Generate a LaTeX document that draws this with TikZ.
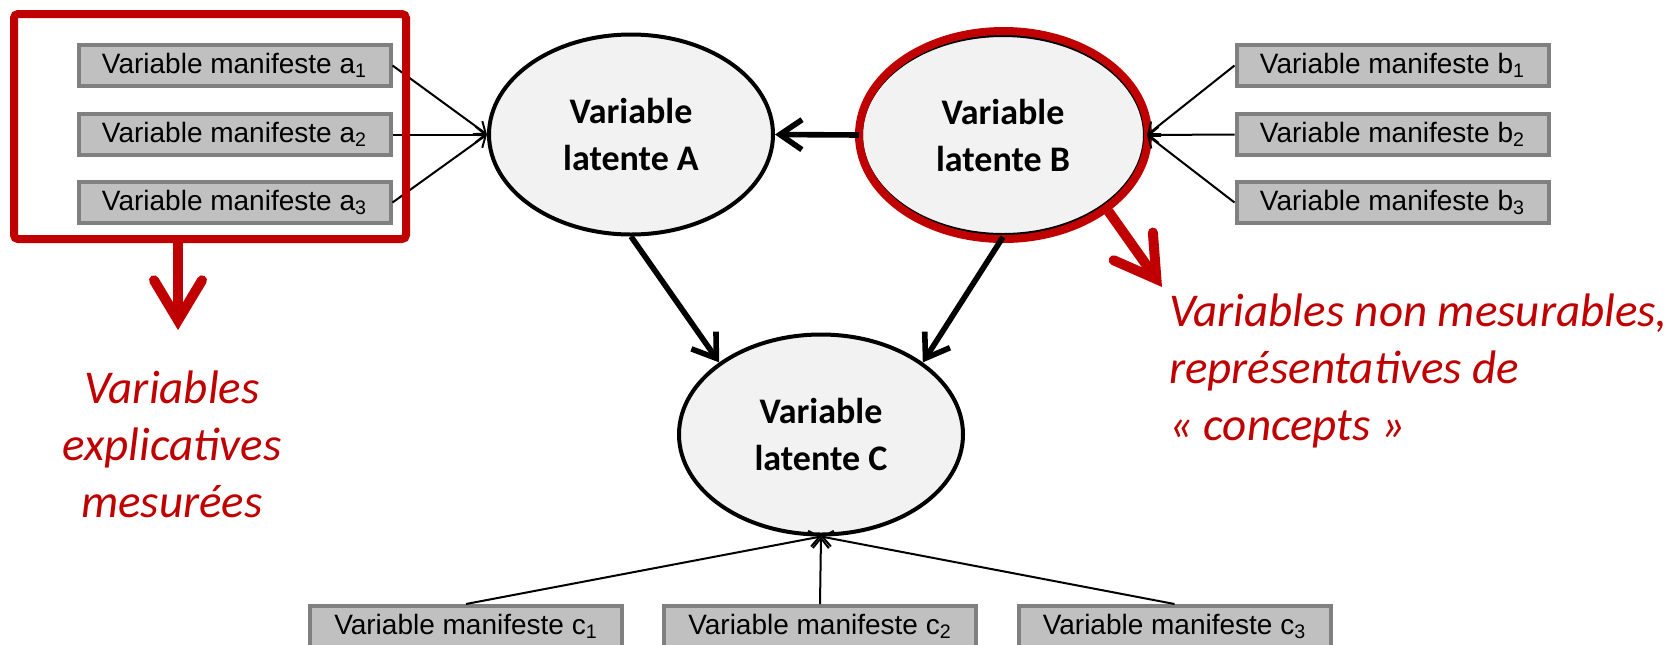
\documentclass[tikz,border=0pt]{standalone}
\usepackage{fontspec}
\setmainfont{Carlito}
\newfontfamily\arialfont{Liberation Sans}
\usetikzlibrary{arrows.meta,shapes.geometric}
\definecolor{accent}{HTML}{C00000}
\definecolor{boxfill}{HTML}{C0C0C0}
\definecolor{boxline}{HTML}{808080}
\definecolor{latfill}{HTML}{F2F2F2}
\tikzset{
	manifest/.style={draw=boxline,fill=boxfill,line width=2pt,minimum width=156pt,minimum height=20.5pt,inner sep=0pt,font=\arialfont\fontsize{14}{16}\selectfont},
	latent/.style={ellipse,draw,fill=latfill,line width=2pt,minimum width=142pt,minimum height=100pt,inner sep=0pt,align=center,font=\bfseries\fontsize{18}{23.5}\selectfont},
	feed/.style={line width=1pt,-{Straight Barb[length=5pt,width=8pt]}},
	causal/.style={line width=2.8pt,-{Straight Barb[length=11pt,width=15pt]}},
	redarrow/.style={accent,line width=5pt,-{Straight Barb[length=20pt,width=24pt,line cap=round,line join=miter]}},
	remark/.style={accent,font=\itshape\fontsize{23.5}{28.5}\selectfont}
}
\begin{document}
\begin{tikzpicture}[x=0.5pt,y=-0.5pt]
			\useasboundingbox (0,0) rectangle (1677,644);
			% latent variables
			\node[latent] (A) at (631,134.5) {Variable\\latente A};
			\node[latent] (B) at (1003,135) {Variable\\latente B};
			\node[latent] (C) at (821,434.5) {Variable\\latente C};
			\node[ellipse,draw=accent,line width=4pt,minimum width=144.5pt,minimum height=104pt] (Bmark) at (1003.5,135) {};
			% manifest variables
			\node[manifest] (a1) at (234.5,65.5) {Variable manifeste a\textsubscript{1}};
			\node[manifest] (a2) at (234.5,134.5) {Variable manifeste a\textsubscript{2}};
			\node[manifest] (a3) at (234.5,202.5) {Variable manifeste a\textsubscript{3}};
			\node[manifest] (b1) at (1392.5,65.5) {Variable manifeste b\textsubscript{1}};
			\node[manifest] (b2) at (1392.5,134.5) {Variable manifeste b\textsubscript{2}};
			\node[manifest] (b3) at (1392.5,202.5) {Variable manifeste b\textsubscript{3}};
			\node[manifest] (c1) at (466,626.5) {Variable manifeste c\textsubscript{1}};
			\node[manifest] (c2) at (820,626.5) {Variable manifeste c\textsubscript{2}};
			\node[manifest] (c3) at (1174.5,626.5) {Variable manifeste c\textsubscript{3}};
			\draw[feed] (a1.east)--(A.west);
			\draw[feed] (a2.east)--(A.west);
			\draw[feed] (a3.east)--(A.west);
			\draw[feed] (b1.west)--(B.east);
			\draw[feed] (b2.west)--(B.east);
			\draw[feed] (b3.west)--(B.east);
			\draw[feed] (c1.north)--(C.south);
			\draw[feed] (c2.north)--(C.south);
			\draw[feed] (c3.north)--(C.south);
			\draw[causal] (B.west)--(A.east);
			\draw[causal] (A.south)--(C.north west);
			\draw[causal] (B.south)--(C.north east);
			% red notes
			\node[draw=accent,line width=4pt,rounded corners=2pt,minimum width=196pt,minimum height=112.5pt] (frameA) at (210,126.5) {};
			\coordinate (tipA) at (178,330);
			\coordinate (tipB) at (1162,287);
			\draw[redarrow] (frameA.south-|tipA)--(tipA);
			\draw[redarrow] (Bmark.south east)--(tipB);
			\node[remark,align=center,anchor=base] (noteA) at (172,517) {Variables\\explicatives\\mesurées};
			\node[remark,align=left,anchor=base west] (noteB) at (1162,440) {Variables non mesurables,\\représentatives de\\«~concepts~»};
		\end{tikzpicture}
\end{document}
